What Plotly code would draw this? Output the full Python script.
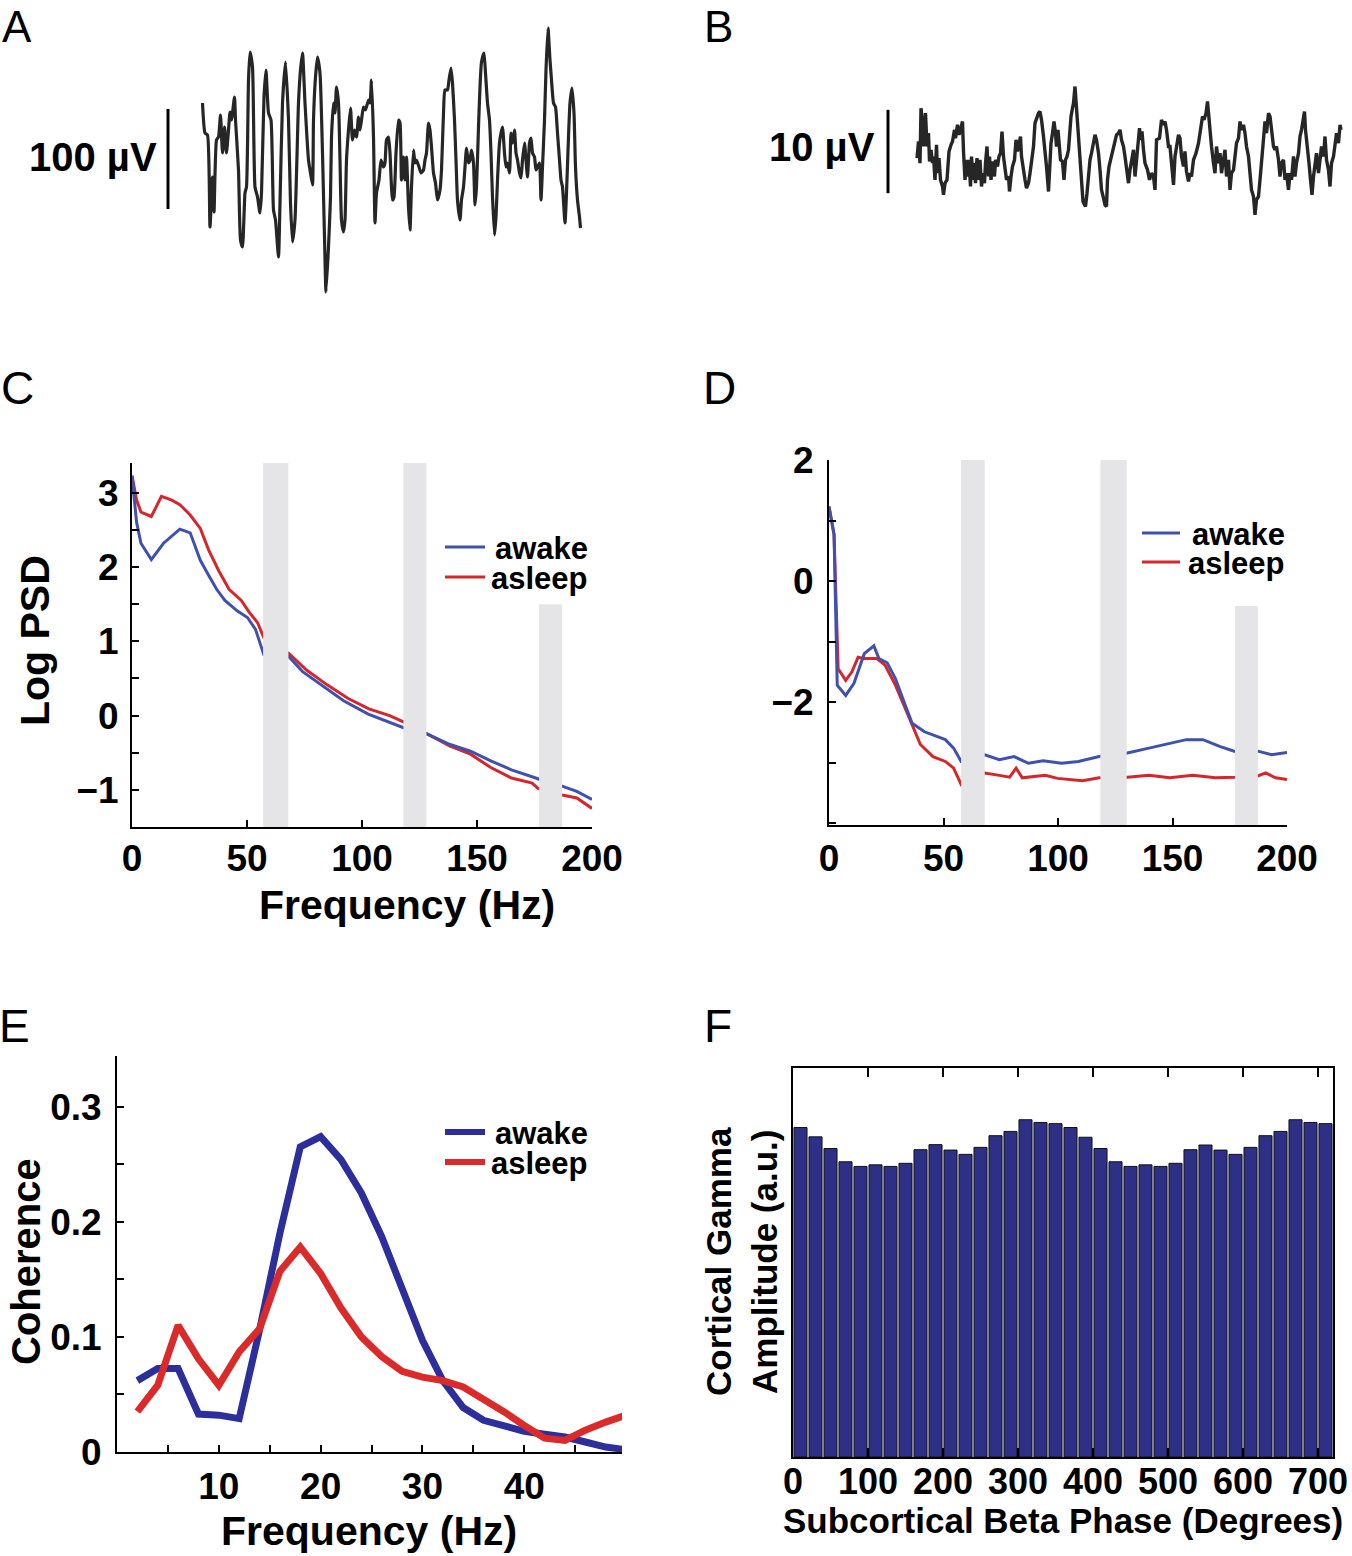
import plotly.graph_objects as go

W, H = 1352, 1556
FONT = "Liberation Sans, Arial, Helvetica, sans-serif"

# ---------------- Panel A: raw LFP trace (awake) ----------------
A_time_ms = [1, 6, 11, 16, 21, 24, 29, 33, 37, 41,
             45, 49, 53, 56, 59, 65, 67, 73, 77, 81,
             86, 89, 93, 96, 101, 106, 111, 116, 119, 124,
             128, 133, 138, 143, 147, 153, 156, 161, 167, 173,
             177, 181, 186, 193, 197, 201, 206, 213, 216, 221,
             223, 227, 231, 236, 241, 245, 248, 253, 257, 259,
             263, 266, 269, 273, 276, 279, 283, 286, 289, 293,
             297, 301, 305, 309, 313, 316, 319, 323, 327, 333,
             336, 339, 343, 346, 349, 354, 358, 363, 366, 369,
             373, 376, 381,
             384, 388, 393, 396, 399, 403, 406, 409, 413, 416,
             419, 423, 426, 429, 434, 438, 443, 446, 449, 453,
             456, 459, 463, 467, 471, 476, 479, 483, 486, 491,
             494, 498, 501, 505, 508, 511, 516, 519, 523, 526,
             529, 533, 536, 539, 543, 546, 549, 553, 556, 559,
             564, 567, 571, 575, 578, 581, 585, 588, 591, 595,
             598, 601, 605, 608, 611, 615, 618, 621, 625, 628,
             631, 635, 638, 641, 645, 648, 651, 655, 658, 661,
             665, 668, 671, 675, 678, 681, 685, 688, 692, 696,
             699, 703, 707, 711, 715, 718, 721, 726, 729, 733,
             736, 740, 744, 747, 751, 755, 757]
A_lfp_uv = [57, 27, 25, -67, -17, -52, 20, 23, 45, 7,
            33, 7, 30, 48, 40, 63, 40, -10, -80, -87,
            -33, -27, 80, 108, 93, -27, -37, -53, -33, 63,
            90, 47, 40, -50, -60, -97, -43, 57, 98, 40,
            -43, -82, -60, 57, 90, 107, 57, 0, -10, -25,
            40, 83, 103, 87, 7, -77, -132, -87, -37, 23,
            57, 47, 73, 57, 0, -60, -72, -60, 0, 30,
            52, 20, 30, 23, 43, 30, 40, 53, 50, 60,
            57, 80, 23, -63, -33, -20, 0, -7, -3, 20,
            23, 7, -40,
            -37, 7, 40, 37, -20, 3, -20, 3, -47, -70,
            -27, 10, -3, 0, -7, -13, -10, 0, 7, 37,
            30, 13, -13, -23, -40, -30, -10, 47, 70, 70,
            80, 92, 77, 40, 0, -40, -60, -40, -27, -7,
            12, -3, 0, 10, -3, -45, -27, 33, 73, 98,
            107, 87, 57, 40, 7, -37, -75, -57, -20, 17,
            27, 33, 7, -7, -3, -13, 27, 17, 30, 7,
            0, -13, -18, 0, 17, 0, -17, 17, 22, 7,
            3, -10, -7, -3, -40, -7, 40, 90, 132, 100,
            80, 57, 53, 27, 0, -20, -27, -63, -33, 23,
            57, 72, 47, -7, -40, -57, -68]
A_scale_uv = 100
A_scale_label = "100 µV"

# ---------------- Panel B: raw LFP trace (asleep) ----------------
B_time_ms = [0, 3, 6, 8, 11, 13, 15, 17, 20, 23,
             25, 28, 31, 33, 36, 39, 41, 44, 47, 51,
             53, 56, 60, 64, 68, 71, 75, 77, 81, 84,
             87, 91, 93, 96, 99, 101, 104, 107, 109, 112,
             115, 117, 120, 123, 126, 129, 132, 135, 137, 140,
             143, 145, 148, 151, 155, 157, 161, 164, 167, 170,
             173, 176, 179, 183, 185, 188, 191, 195, 198, 201,
             204, 207, 209, 213, 216, 219, 223, 226, 229, 233,
             236, 239, 243, 246, 249, 253, 256, 259, 263, 265,
             268, 271, 274, 277, 279, 282, 285, 287, 291, 294,
             297, 300, 303, 305, 308, 311, 313, 316, 319, 321,
             324, 327, 329, 332, 335, 337, 340, 343, 346, 349,
             353, 356, 359, 363, 366, 369, 373, 376, 379, 381,
             384, 387, 389, 393, 396, 399, 403, 406, 409, 413,
             416, 419, 423,
             426, 433, 436, 441, 445, 447, 450, 453, 456, 461,
             465, 469, 473, 476, 479, 485, 489, 493, 496, 499,
             503, 506, 509, 513, 516, 519, 523, 526, 529, 533,
             536, 539, 543, 546, 549, 553, 558, 563, 567, 571,
             574, 578, 581, 583, 586, 589, 593, 596, 599, 603,
             606, 609, 613, 616, 619, 623, 626, 629, 633, 636,
             639, 643, 646, 649, 653, 656, 659, 663, 666, 669,
             673, 676, 679, 683, 686, 689, 693, 696, 699, 703,
             706, 709, 713, 716, 719, 723, 726, 729, 733, 736,
             739, 743, 746, 749, 753, 756, 759, 763, 766, 769,
             773, 775, 777, 781, 784, 787, 790, 793, 796, 799,
             803, 806, 809, 813, 816, 819, 823, 826, 829, 833,
             836, 839, 843, 846, 848]
B_lfp_uv = [-0.8, 1.2, -1.4, 5.2, 3.4, 0.6, 2.6, 4.6, 0.6, 2.2,
            -1.2, 0.2, -1.4, -0.6, -3.4, 0.8, -2.6, -0.8, -3.4, -4.2,
            -5.2, -3.8, -3.4, 0.0, 0.8, 1.2, 2.6, 1.6, 3.2, 2.0,
            2.6, 3.6, 0.0, -3.4, -1.0, -3.0, -1.0, -4.2, -0.6, -3.4,
            -1.4, -3.8, -0.8, -3.4, -1.0, -4.2, -2.6, -3.8, -1.4, 0.6,
            -3.0, -0.6, -3.4, -1.2, -3.0, -1.0, -1.8, -0.6, -0.2, 2.4,
            -0.6, -1.8, -3.4, -3.0, -4.8, -3.0, -1.8, -1.0, 1.4, 0.0,
            1.2, 1.8, -0.6, -2.6, -3.4, -4.4, -3.8, -2.6, -1.4, 0.6,
            3.4, 4.0, 4.6, 4.8, 3.8, 1.8, -0.6, -1.8, -4.8, -1.8,
            1.0, 2.2, 3.6, 2.2, 0.6, 2.6, 0.6, -1.0, -1.2, -3.4,
            -1.0, -0.6, 0.2, 2.2, 4.2, 5.2, 5.8, 7.8, 5.0, 4.6,
            1.0, -1.4, -3.4, -6.0, -6.4, -6.6, -5.0, -2.6, -1.0, -0.2,
            1.0, 2.0, 1.4, -0.2, -2.2, -4.6, -5.6, -6.4, -6.6, -3.4,
            -1.8, -1.0, -0.6, 0.6, 1.4, 2.0, 2.2, 2.6, 1.4, 0.6,
            -0.6, -1.8, -3.8,
            -2.2, 0.2, -3.0, 0.6, 2.8, 1.4, 2.4, 0.2, -1.4, -2.2,
            -3.4, -2.6, -3.0, -4.6, 1.4, 1.6, 3.8, 3.2, 3.6, 2.6,
            0.6, 0.6, -1.8, -4.0, -0.6, 0.6, 2.0, 1.6, -0.6, -1.8,
            0.0, -2.4, -3.6, -2.6, -3.0, -1.0, -0.2, 1.0, 2.6, 4.2,
            3.8, 4.6, 6.0, 4.6, 2.2, 0.6, -1.4, -2.6, 0.6, -1.4,
            -0.2, -2.6, -1.0, 0.2, -3.0, -1.0, -4.6, -2.6, -2.2, -0.6,
            1.0, 1.6, 3.6, 2.6, 3.2, 2.2, 0.6, -0.6, -2.4, -4.6,
            -5.4, -7.6, -5.8, -5.4, -3.4, -1.4, 0.6, 3.6, 2.2, 4.6,
            4.2, 2.6, 0.6, 0.2, 0.6, -1.0, -3.0, -1.4, -1.0, -3.4,
            -2.6, -4.6, -2.6, -3.4, -0.6, -3.0, -1.4, -0.2, 1.8, 2.6,
            4.2, 4.8, 2.6, 0.6, -1.4, -3.4, -5.2, -3.0, -1.8, -0.2,
            -2.6, -1.0, 0.6, -0.6, 1.8, -1.0, -2.2, -4.2, -1.4, -0.6,
            0.6, 2.2, 1.0, 3.2, 2.6]
B_scale_uv = 10
B_scale_label = "10 µV"

# ---------------- Panel C: Log PSD, cortex ----------------
C_freq_awake = [0, 2, 3.9, 8.4, 13.7, 17.3, 20.8, 25.3, 29.7, 33.3, 36.8, 40.4, 45.7,
                50.2, 53.7, 57.3, 62, 68, 74.2, 83.1, 92, 102.7, 111.6, 117.8, 123,
                128.5, 138.3, 147.2, 156, 165, 176.5, 181, 187, 193.4, 200]
C_psd_awake = [3.23, 2.6, 2.32, 2.10, 2.32, 2.41, 2.51, 2.46, 2.09, 1.89, 1.70, 1.55, 1.41,
               1.32, 1.16, 0.82, 0.81, 0.80, 0.59, 0.39, 0.20, 0.02, -0.08, -0.16, -0.20,
               -0.25, -0.39, -0.48, -0.61, -0.73, -0.85, -0.90, -0.95, -1.02, -1.13]
C_freq_asleep = [0, 2, 3.9, 8.4, 12.8, 17.3, 20.8, 25.3, 29.7, 33.3, 37.7, 42.2, 47.5,
                 51, 54.6, 57.3, 62, 68, 76, 85, 94, 103, 112, 117.8, 123,
                 128.5, 138.3, 147.2, 156, 165, 174, 176.5, 181, 187, 193.4, 200]
C_psd_asleep = [3.23, 2.9, 2.74, 2.68, 2.95, 2.90, 2.84, 2.70, 2.52, 2.23, 1.95, 1.70, 1.55,
                 1.39, 1.25, 1.05, 0.90, 0.84, 0.61, 0.41, 0.23, 0.09, 0.0, -0.08, -0.17,
                 -0.25, -0.41, -0.52, -0.70, -0.84, -0.91, -0.98, -1.02, -1.07, -1.11, -1.25]
C_band_lo = [57, 118, 177]
C_band_hi = [68, 128, 187]
C_band_top = [3.4, 3.4, 1.5]

# ---------------- Panel D: Log PSD, subcortex ----------------
D_freq_awake = [0, 2.2, 3.6, 7.3, 10.9, 15.4, 19.6, 21.8, 25.4, 29, 32.7, 36.3, 41.7,
                47.2, 50.8, 54.4, 57.7, 63, 68, 74.4, 80.8, 87.1, 93.5, 101.6, 108.9,
                118, 124, 130.3, 139.7, 148.8, 156, 163.3, 170.6, 176.9, 182, 187.3,
                193.3, 200]
D_psd_awake = [1.23, 0.77, -1.72, -1.89, -1.69, -1.20, -1.07, -1.28, -1.35, -1.61, -1.99,
               -2.35, -2.49, -2.57, -2.62, -2.76, -2.98, -2.90, -2.87, -2.95, -2.90, -3.01,
               -2.97, -3.01, -2.98, -2.90, -2.87, -2.84, -2.76, -2.68, -2.62, -2.62, -2.73,
               -2.81, -2.82, -2.81, -2.87, -2.83]
D_freq_asleep = [0, 2.2, 4, 7.3, 10, 12.7, 15.4, 20.9, 24.5, 29, 34.5, 39.9, 45.4, 50.8,
                 54.4, 57.7, 63, 68, 74.4, 78.9, 81.7, 84.4, 94.4, 99.8, 110.7, 118, 124,
                 130.3, 139.7, 148.8, 158.8, 168.8, 177.3, 182, 187.3, 190.7, 195, 200]
D_psd_asleep = [1.23, 0.77, -1.45, -1.64, -1.50, -1.26, -1.28, -1.28, -1.39, -1.72, -2.21,
                -2.70, -2.90, -2.98, -3.09, -3.36, -3.20, -3.17, -3.21, -3.24, -3.09, -3.25,
                -3.21, -3.26, -3.30, -3.25, -3.24, -3.24, -3.21, -3.25, -3.21, -3.25, -3.24,
                -3.22, -3.22, -3.17, -3.25, -3.28]
D_band_lo = [57.7, 118.5, 177.3]
D_band_hi = [68, 130, 187.3]
D_band_top = [2.0, 2.0, -0.41]

# ---------------- Panel E: coherence ----------------
E_freq = [2, 4, 6, 8, 10, 12, 14, 16, 18, 20, 22, 24, 26, 28, 30, 32, 34, 36, 38,
          40, 42, 44, 46, 48, 50]
E_coh_awake = [0.062, 0.0725, 0.0725, 0.033, 0.032, 0.029, 0.106, 0.190, 0.265, 0.274,
               0.254, 0.225, 0.187, 0.141, 0.097, 0.062, 0.0386, 0.0275, 0.023, 0.018,
               0.0154, 0.013, 0.0087, 0.0043, 0.002]
E_coh_asleep = [0.035, 0.058, 0.110, 0.081, 0.058, 0.087, 0.107, 0.157, 0.178, 0.155,
                0.125, 0.100, 0.083, 0.070, 0.065, 0.062, 0.0565, 0.046, 0.035, 0.023,
                0.012, 0.010, 0.019, 0.026, 0.032]

# ---------------- Panel F: phase-amplitude histogram ----------------
F_phase_deg = [10, 30, 50, 70, 90, 110, 130, 150, 170, 190, 210, 230,
               250, 270, 290, 310, 330, 350, 370, 390, 410, 430, 450, 470,
               490, 510, 530, 550, 570, 590, 610, 630, 650, 670, 690, 710]
F_gamma_amp = [0.847, 0.823, 0.793, 0.759, 0.747, 0.751, 0.747, 0.755, 0.790, 0.803,
               0.789, 0.778, 0.796, 0.826, 0.837, 0.867, 0.860, 0.857,
               0.847, 0.822, 0.793, 0.759, 0.747, 0.751, 0.747, 0.755, 0.790, 0.802,
               0.789, 0.778, 0.796, 0.826, 0.837, 0.867, 0.860, 0.857]
F_phase_ticks = [0, 100, 200, 300, 400, 500, 600, 700]

STATES = ["awake", "asleep"]

# ---------------- styling ----------------
TRACE_COL = "#262626"
BLUE_CD = "#3F51B0"
RED_CD = "#D7262B"
BLUE_E = "#2C2E9C"
RED_E = "#DA2A2A"
BAR_COL = "#2E3087"
BAND_COL = "#E5E5E8"


def dx(a, b):
    return [a / W, b / W]


def dy(top, bottom):
    return [1 - bottom / H, 1 - top / H]


def px(x):
    return x / W


def py(y):
    return 1 - y / H


fig = go.Figure()

# A
fig.add_trace(go.Scatter(x=A_time_ms, y=A_lfp_uv, mode="lines",
                         line=dict(color=TRACE_COL, width=3.2, shape="spline", smoothing=0.5),
                         xaxis="x", yaxis="y", showlegend=False, hoverinfo="skip"))
fig.add_trace(go.Scatter(x=[-68, -68], y=[-A_scale_uv / 2 + 1, A_scale_uv / 2 + 1],
                         mode="lines", line=dict(color="black", width=3),
                         xaxis="x", yaxis="y", showlegend=False, hoverinfo="skip"))
# B
fig.add_trace(go.Scatter(x=B_time_ms, y=B_lfp_uv, mode="lines",
                         line=dict(color=TRACE_COL, width=3.4),
                         xaxis="x2", yaxis="y2", showlegend=False, hoverinfo="skip"))
fig.add_trace(go.Scatter(x=[-58, -58], y=[-B_scale_uv / 2, B_scale_uv / 2],
                         mode="lines", line=dict(color="black", width=3),
                         xaxis="x2", yaxis="y2", showlegend=False, hoverinfo="skip"))

# C
fig.add_trace(go.Scatter(x=C_freq_asleep, y=C_psd_asleep, mode="lines", name="asleep",
                         line=dict(color=RED_CD, width=3), xaxis="x3", yaxis="y3",
                         showlegend=False))
fig.add_trace(go.Scatter(x=C_freq_awake, y=C_psd_awake, mode="lines", name="awake",
                         line=dict(color=BLUE_CD, width=3), xaxis="x3", yaxis="y3",
                         showlegend=False))
# D
fig.add_trace(go.Scatter(x=D_freq_asleep, y=D_psd_asleep, mode="lines", name="asleep",
                         line=dict(color=RED_CD, width=3), xaxis="x4", yaxis="y4",
                         showlegend=False))
fig.add_trace(go.Scatter(x=D_freq_awake, y=D_psd_awake, mode="lines", name="awake",
                         line=dict(color=BLUE_CD, width=3), xaxis="x4", yaxis="y4",
                         showlegend=False))
# E
fig.add_trace(go.Scatter(x=E_freq, y=E_coh_awake, mode="lines", name="awake",
                         line=dict(color=BLUE_E, width=7), xaxis="x5", yaxis="y5",
                         showlegend=False))
fig.add_trace(go.Scatter(x=E_freq, y=E_coh_asleep, mode="lines", name="asleep",
                         line=dict(color=RED_E, width=7), xaxis="x5", yaxis="y5",
                         showlegend=False))
# F
fig.add_trace(go.Bar(x=F_phase_deg, y=F_gamma_amp, marker=dict(color=BAR_COL,
                     line=dict(color="#111111", width=1)),
                     xaxis="x6", yaxis="y6", showlegend=False, hoverinfo="skip"))

# bands (drawn above the curves)
shapes = []
for lo, hi, top in zip(C_band_lo, C_band_hi, C_band_top):
    shapes.append(dict(type="rect", xref="x3", yref="y3", x0=lo, x1=hi, y0=-1.5, y1=top,
                       fillcolor=BAND_COL, line=dict(width=0), layer="above"))
for lo, hi, top in zip(D_band_lo, D_band_hi, D_band_top):
    shapes.append(dict(type="rect", xref="x4", yref="y4", x0=lo, x1=hi, y0=-4.03, y1=top,
                       fillcolor=BAND_COL, line=dict(width=0), layer="above"))

# legend keys (awake / asleep) for C, D, E
bold = dict(family=FONT, color="black", weight="bold")
legend_specs = [
    # (line x0, line x1, text right edge, first row y, row gap, colors, line width)
    (445, 485, 590, 547, 30, (BLUE_CD, RED_CD), 3),
    (1142, 1180, 1287, 533, 29, (BLUE_CD, RED_CD), 3),
    (445, 485, 590, 1132, 30, (BLUE_E, RED_E), 6),
]
legend_annots = []
for lx0, lx1, tx, y0, gap, cols, lw in legend_specs:
    for i, (name, col) in enumerate(zip(STATES, cols)):
        yy = y0 + i * gap
        shapes.append(dict(type="line", xref="paper", yref="paper", x0=px(lx0), x1=px(lx1),
                           y0=py(yy), y1=py(yy), line=dict(color=col, width=lw)))
        legend_annots.append(dict(text=name, xref="paper", yref="paper", x=px(tx),
                                  y=py(yy + 1), xanchor="right", yanchor="middle",
                                  showarrow=False, font=dict(bold, size=31)))

tickfont = dict(family=FONT, size=37, color="black", weight="bold")


def ax(**kw):
    base = dict(showline=True, linecolor="black", linewidth=2, ticks="inside",
                tickcolor="black", ticklen=7, tickwidth=1.5, showgrid=False,
                zeroline=False, tickfont=tickfont, fixedrange=True, automargin=False)
    base.update(kw)
    return base


hidden = dict(visible=False, showgrid=False, zeroline=False, fixedrange=True,
              automargin=False)

layout = dict(
    template="none",
    width=W, height=H, margin=dict(l=0, r=0, t=0, b=0, pad=0, autoexpand=False),
    paper_bgcolor="white", plot_bgcolor="rgba(0,0,0,0)",
    font=dict(family=FONT, color="black"),
    bargap=0.13,
    showlegend=False,
    shapes=shapes,
    # A
    xaxis=dict(hidden, domain=dx(0, 676), range=[-404, 948], anchor="y"),
    yaxis=dict(hidden, domain=dy(0, 330), range=[-170, 160], anchor="x"),
    # B
    xaxis2=dict(hidden, domain=dx(700, 1352), range=[-434, 870], anchor="y2"),
    yaxis2=dict(hidden, domain=dy(0, 330), range=[-21.42, 18.18], anchor="x2"),
    # C
    xaxis3=ax(domain=dx(132, 592), range=[0, 200], anchor="y3",
              tickvals=[0, 50, 100, 150, 200], ticklabelstandoff=-2),
    yaxis3=ax(domain=dy(463, 827), range=[-1.5, 3.4], anchor="x3",
              tickvals=[-1, 0, 1, 2, 3], ticklabelstandoff=4,
              minor=dict(dtick=0.5, tick0=0, ticks="inside", ticklen=7, tickcolor="black")),
    # D
    xaxis4=ax(domain=dx(829, 1287), range=[0, 200], anchor="y4",
              tickvals=[0, 50, 100, 150, 200], ticklabelstandoff=0),
    yaxis4=ax(domain=dy(460, 825), range=[-4.03, 2.0], anchor="x4",
              tickvals=[-2, 0, 2], ticklabelstandoff=6,
              minor=dict(dtick=1, tick0=0, ticks="inside", ticklen=7, tickcolor="black")),
    # E
    xaxis5=ax(domain=dx(117, 622), range=[0, 49.6], anchor="y5",
              tickvals=[10, 20, 30, 40], ticklabelstandoff=1,
              minor=dict(dtick=5, tick0=0, ticks="inside", ticklen=7, tickcolor="black")),
    yaxis5=ax(domain=dy(1056, 1452), range=[0, 0.344], anchor="x5",
              tickvals=[0, 0.1, 0.2, 0.3], ticktext=["0", "0.1", "0.2", "0.3"],
              ticklabelstandoff=6,
              minor=dict(dtick=0.05, tick0=0, ticks="inside", ticklen=7, tickcolor="black")),
    # F
    xaxis6=ax(domain=dx(793, 1333), range=[0, 720], anchor="y6",
              tickvals=F_phase_ticks, mirror="ticks", tickangle=0, ticklen=9,
              ticklabelstandoff=-8, tickfont=dict(tickfont, size=36)),
    yaxis6=ax(domain=dy(1068, 1457), range=[0, 1], anchor="x6",
              ticks="", showticklabels=False, mirror=True),
)

annotations = []
# top-row letters anchored to the top edge so they stay inside the page
for letter, lx in zip("AB", [0, 702]):
    annotations.append(dict(text=letter, xref="paper", yref="paper", x=px(lx), y=1,
                            xanchor="left", yanchor="top", showarrow=False,
                            font=dict(family=FONT, size=44, color="black")))
for letter, (lx, ly) in zip("CDEF", [(17, 388), (719, 388), (14, 1026), (718, 1026)]):
    annotations.append(dict(text=letter, xref="paper", yref="paper", x=px(lx), y=py(ly),
                            xanchor="center", yanchor="middle", showarrow=False,
                            font=dict(family=FONT, size=46, color="black")))

centered = dict(xref="paper", yref="paper", xanchor="center", yanchor="middle",
                showarrow=False)
annotations += [
    dict(text=A_scale_label, xref="x", yref="y", x=-86, y=3, xanchor="right",
         yanchor="middle", showarrow=False, font=dict(bold, size=40)),
    dict(text=B_scale_label, xref="x2", yref="y2", x=-80, y=0.5, xanchor="right",
         yanchor="middle", showarrow=False, font=dict(bold, size=40)),
    dict(centered, text="Log PSD", x=px(35), y=py(641), textangle=-90,
         font=dict(bold, size=41)),
    dict(centered, text="Frequency (Hz)", x=px(407), y=py(905), font=dict(bold, size=41)),
    dict(centered, text="Coherence", x=px(26), y=py(1262), textangle=-90,
         font=dict(bold, size=40)),
    dict(centered, text="Frequency (Hz)", x=px(369), y=py(1531), font=dict(bold, size=41)),
    dict(centered, text="Cortical Gamma<br>Amplitude (a.u.)", x=px(741), y=py(1262),
         textangle=-90, font=dict(bold, size=35)),
    dict(centered, text="Subcortical Beta Phase (Degrees)", x=px(1063), y=py(1520),
         font=dict(bold, size=35)),
]
annotations += legend_annots
layout["annotations"] = annotations

fig.update_layout(**layout)
fig.write_html("out.html", config={"displayModeBar": False},
               post_script="document.body.style.margin='0px';"
                           "document.body.style.overflow='hidden';")
